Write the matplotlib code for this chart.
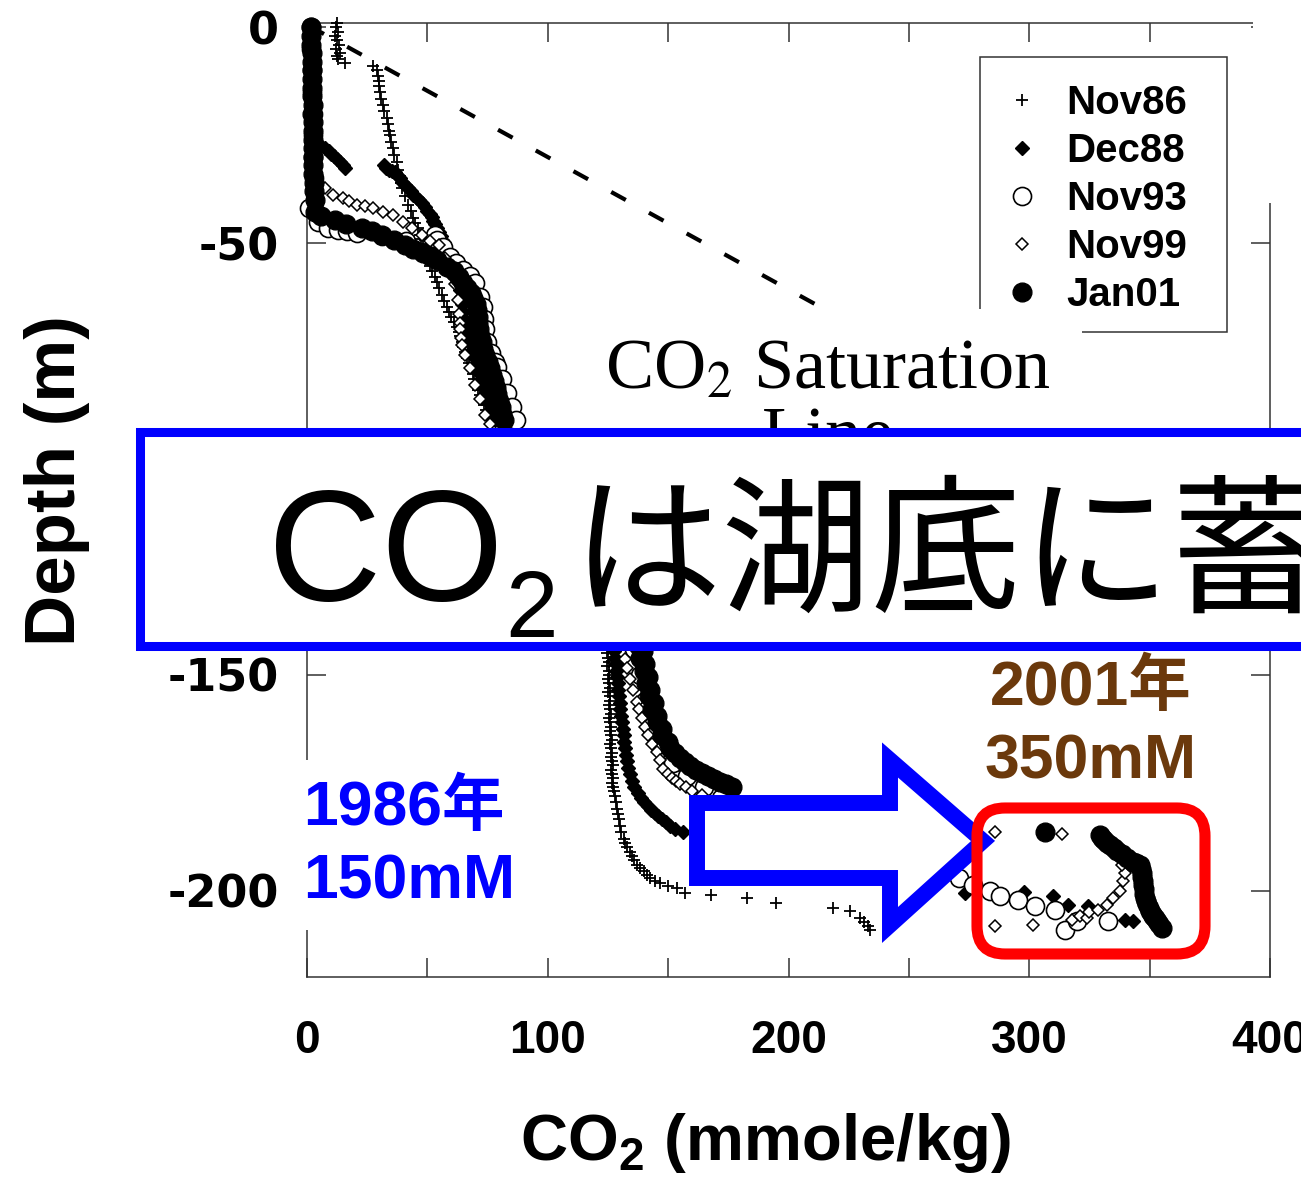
import matplotlib
matplotlib.use('Agg')
import matplotlib.pyplot as plt
from matplotlib.patches import Rectangle, Polygon, FancyBboxPatch

plt.rcParams['font.family'] = ['Liberation Sans', 'Noto Sans CJK JP', 'DejaVu Sans']
plt.rcParams['mathtext.fontset'] = 'custom'
plt.rcParams['mathtext.rm'] = 'Liberation Sans'
plt.rcParams['mathtext.bf'] = 'Liberation Sans:bold'
plt.rcParams['lines.scale_dashes'] = False
plt.rcParams['axes.unicode_minus'] = False

# CO2 profiles (mmole/kg) against depth (m)
nov86_co2 = [12.5, 12, 13, 11.8, 12.6, 13.2, 12.2, 13.6, 12.4, 13, 15.8,
             27.4, 29, 29.5, 29.8, 30, 30.3, 30.8, 31.6, 32, 33.2, 33.5, 34, 34.5, 35, 35.7,
             36.3, 37.4, 37.8, 38.5, 39, 39.5, 40.5, 42, 43, 44, 45,
             46, 46.8, 47.5, 48.2, 49, 49.8, 50.5, 51.2, 52, 53, 54, 55, 56, 57, 58, 59, 60, 61.2,
             62.3, 63, 63.5, 64.2, 64.8, 65.7, 66.5, 67.3, 68, 68.8, 69.5, 70.2, 71, 71.9, 72.7,
             73.5, 74.2, 75, 76,
             82, 92, 104, 115, 121, 124,
             124.6, 125.2, 124.8, 125, 125.5, 124.8, 125.3, 125.6, 125.1, 125.5, 125.9, 125.2,
             125.7, 126, 125.4, 125.8, 126.2, 125.5, 126, 126.4, 125.8, 126.2, 126.6, 126,
             126.4, 126.8, 126.2, 126.6, 127, 126.4, 126.8, 127.2, 126.7, 127.1, 127.6, 127.9,
             128.3, 128.8, 129.2, 129.5, 130, 130.5, 131.5, 132.2, 133, 134, 135, 136, 137,
             138.5, 140, 141.2, 142.5, 144.5, 146.6, 150, 153.7, 157, 168, 182.8, 195,
             218.5, 225.5, 229.7, 231.5, 233, 233.9]
nov86_depth = [1, 0, -1, -2, -3, -4, -5, -6, -6.7, -7.3, -8.2,
               -8.9, -10, -11.2, -12.5, -13.7, -15, -16.5, -18, -19.5, -21, -22.5, -24, -25, -26.5, -28,
               -29.5, -31.3, -33, -34.5, -36, -37.3, -39, -41.2, -42.5, -44.2, -45.3,
               -46.5, -48, -49, -50.3, -51.5, -52.8, -54, -55.2, -56.5, -57.8, -59, -60.5, -62, -63.4, -64.8,
               -66, -67, -68.2,
               -69.4, -70.5, -71.5, -72.8, -74, -75.3, -76.5, -77.8, -79, -80.3, -81.5, -82.8, -84, -85.2, -86.3,
               -87.5, -88.7, -89.8, -91,
               -97, -104, -113, -122, -130, -137,
               -143, -144, -145, -146, -147, -148, -149, -150, -151, -152, -153, -154,
               -155, -156, -157, -158, -159, -160, -161, -162, -163, -164, -165, -166,
               -167, -168, -169, -170, -171, -172, -173, -174, -175, -176, -177, -178,
               -179.5, -181, -182.3, -183.5, -185, -186.3, -188, -189, -190, -191, -192, -193, -194,
               -194.8, -195.5, -196.3, -197, -197.7, -198.3, -199, -199.4, -200.6, -201, -201.7, -202.9,
               -204, -204.7, -206.3, -207.2, -208.2, -209]

dec88_co2 = [2, 2.2, 2.4, 2.5, 2.6, 3,
             5, 7.5, 9, 10, 11.3, 12.5, 13.8, 15, 15.8,
             32, 33, 34, 35.3, 36.5, 37.5, 38.5, 39.6, 40.7, 41.8, 43, 44.2, 45.5, 46.6, 47.8, 49,
             50, 51, 52, 52.5, 53, 54, 55, 55.5, 56, 56.8, 57.5, 58.5, 59.4, 60.5, 61.5, 62.5,
             63.5, 64, 64.5, 65, 65.6, 66.3, 67, 67.8, 68.5, 69.2, 70, 71, 71.9, 73, 74, 75, 76, 77, 78,
             86, 97, 110, 120, 126, 127,
             127.3, 127.6, 127.9, 128.2, 128.5, 128.7, 129, 129.3, 129.6, 130, 130.2, 130.5,
             130.8, 131.2, 131.5, 131.8, 132.2, 132.6, 133, 133.4, 134, 134.8, 136, 137.3,
             138.6, 140, 141.5, 143, 144.5, 146, 147.5, 149, 150.8, 153, 156,
             175, 200, 230, 255,
             273.3, 298, 310, 316, 324.4, 339.8, 343]
dec88_depth = [0, -5, -10, -15, -20, -25,
               -27, -28, -28.7, -29.3, -29.9, -30.5, -31.2, -31.8, -32.7,
               -32, -32.5, -33, -33.3, -33.6, -34.3, -35, -35.8, -36.5, -37.2, -38, -38.8, -39.5, -40.1,
               -40.8, -41.7,
               -42.5, -43.2, -44, -44.8, -45.5, -46.5, -47.5, -48.4, -49.3, -50.6, -52, -53.5, -55, -56.5,
               -58, -59.4,
               -60.8, -62.4, -64, -66, -67.8, -69.4, -71, -72.8, -74.7, -76.3, -78, -79.8, -81.6, -83.3,
               -85, -86.8, -88.6, -89.8, -91,
               -98, -106, -116, -126, -135, -140,
               -143, -144.5, -146, -147.5, -149, -150.5, -152, -153.5, -155, -156.5, -158, -159.5,
               -161, -162.5, -164, -165.5, -167, -168.5, -170, -171.5, -173, -174.5, -176, -177.3,
               -178.5, -179.5, -180.5, -181.3, -182, -182.8, -183.5, -184.2, -185, -185.6, -186.3,
               -190, -193, -196, -198.5,
               -200.6, -200.2, -201.3, -203.3, -203.6, -206.8, -207]

nov93_co2 = [1.5, 1.8, 2, 2.2, 2.3, 2.5, 2.6, 2.8,
             0.8, 4.6, 8.7, 12.9, 16.5, 20.8, 31, 41,
             53, 54, 56.5, 59.4, 62, 64.8, 67.5, 69.8, 71.9, 73, 73.5, 74, 74.8, 76.5, 78, 79,
             81, 83, 85, 87, 95, 107, 118, 127, 133,
             136, 138.5, 140.5, 143, 147, 152, 158, 165, 172, 200, 230, 255,
             271, 276.6, 283.7, 288, 295.3, 302.4, 310.7, 314.9, 319.8, 332.7]
nov93_depth = [0, -5, -10, -15, -20, -25, -30, -35,
               -41.9, -45, -46.5, -47, -47.3, -47.7, -48.3, -49.5,
               -48, -49.3, -51, -53.2, -54.7, -56.2, -57.7, -59.2, -62.5, -64.8, -67.5, -70, -73, -75.5,
               -77.5, -78.6,
               -81.5, -84.6, -88, -91, -100, -110, -120, -130, -139,
               -144, -150, -156, -162, -167, -170.5, -173.5, -176, -178.5, -183, -188, -193,
               -197.1, -198.7, -200, -201.3, -202.2, -203.6, -204.5, -209.1, -207, -207]

nov99_co2 = [1.5, 2, 2.2, 2.4, 2.6, 2.8, 3,
             7.5, 10.8, 15, 17.5, 20.8, 24, 27.4, 31.6, 35.7, 39.9, 43.6, 47.8, 51, 55,
             57.5, 60.2, 61.5, 62.7, 63.2, 63.5, 63.5, 64, 64.5, 65.6, 67.5, 69.8, 72, 74, 76,
             84, 96, 110, 122, 129,
             132, 133, 134.2, 135.5, 137, 138, 139, 140.3, 141.6, 143.5, 145.4, 146.7, 148,
             149.8, 151.6, 153.3, 155, 157.5, 160, 164, 190, 220, 250, 270,
             285.8, 313.6, 285.8, 301.6, 317.8, 321, 324, 325, 328.5, 332.3, 334.8, 337.7,
             339, 339.8, 338.5]
nov99_depth = [0, -6, -12, -18, -24, -30, -35,
               -37.3, -38.9, -39.6, -40.3, -41.2, -41.5, -41.9, -42.8, -43.5, -45.1, -46.5, -48.2, -49.5,
               -50.5,
               -53.5, -56.2, -59.5, -63.2, -66.5, -68.5, -70, -72, -73.7, -75.9, -79, -82.8, -86, -89.7, -92,
               -100, -110, -120, -130, -139,
               -146.3, -148.5, -151, -153.5, -156.2, -158, -160, -162, -164, -166, -167.8, -169.8, -171.7,
               -172.9, -174, -174.6, -175.2, -176, -176.8, -177.8, -181, -184, -187, -188,
               -186.3, -186.8, -208.2, -208, -206.8, -205.8, -206.3, -205, -204.5, -203.4, -201.8, -200.1,
               -197.8, -196, -194.1]

jan01_co2 = [1.5, 1.8, 1.6, 2.0, 1.9, 2.1, 2.0, 2.2, 2.1, 2.3, 2.2, 2.4, 2.3, 2.5, 2.4, 2.6,
             2.5, 2.6, 2.8, 3.0, 3.5,
             3.3, 6, 11.6, 16, 22.8, 27, 31, 36, 40.7, 44, 48, 51, 54, 58, 61, 63,
             65, 66.5, 68, 69, 70, 70.5, 71, 71.2, 71.5, 72, 72.5, 73.2, 74, 75, 76, 76.8, 77.5,
             78.3, 79, 79.8, 80.5, 81.2, 82,
             88, 96, 105, 114, 122, 128, 133,
             137.5, 139.5, 138.5, 140.5, 139.8, 141.5, 141, 142.5, 142, 144, 143.5, 145.5, 145.4,
             147.5, 147.5, 150, 150.8, 153, 155, 157, 159, 161.5, 164, 166.5, 169, 171.5, 174, 176.5,
             190, 215, 245,
             306.5, 329.4, 330.2, 331, 332.2, 333.5, 335, 336.5, 338.5, 340.6, 343, 344.5, 346,
             346.4, 346.8, 347, 347.2, 347.4, 347.6, 347.8, 348, 348.5, 349, 349.6, 350.2, 351,
             351.6, 352.3, 353, 354, 355]
jan01_depth = [0, -2, -4, -6, -8, -10, -12, -14, -16, -18, -20, -22, -24, -26, -28, -30,
               -32, -34, -36, -38, -40,
               -42.8, -43.8, -44.7, -45.5, -46.5, -47.3, -48, -49.3, -50.5, -51.3, -52.3, -53, -54, -55.5,
               -56.5, -57.8,
               -59.2, -60.3, -61.5, -62.8, -64, -65.5, -67, -68.5, -70, -71.5, -73, -74.5, -76, -77.5,
               -79, -80.5, -82, -83.5, -85, -86.5, -88, -89.5, -91,
               -97, -104, -112, -120, -128, -135, -140,
               -143, -144.5, -146, -147.5, -149, -150.5, -152, -153.5, -155, -156.5, -158, -159.5, -161,
               -162.5, -164, -165.5, -167, -168.2, -169.3, -170.3, -171.2, -172, -172.8, -173.5, -174.2,
               -174.8, -175.4, -176,
               -180.5, -182, -183.5,
               -186.3, -187.2, -187.8, -188.3, -188.9, -189.5, -190.2, -190.8, -191.6, -192.5, -193.3,
               -193.7, -194.1,
               -195, -196, -196.9, -197.8, -198.7, -199.7, -200.7, -201.7, -202.5, -203.2, -204, -204.7,
               -205.3, -205.8, -206.4, -207, -207.8, -208.6]

# CO2 saturation line
sat_co2 = [2, 300]
sat_depth = [0, -91.4]

x_ticks = [0, 100, 200, 300, 400]
x_minor = [50, 150, 250, 350]
y_ticks = [0, -50, -100, -150, -200]

W, H = 1301, 1192
fig = plt.figure(figsize=(W / 100, H / 100), dpi=100)
ax = fig.add_axes([307 / W, 1 - 977 / H, (1270 - 307) / W, (977 - 23) / H])


def fx(px):
    return px / W


def fy(py):
    return 1 - py / H


ax.plot(sat_co2, sat_depth, color='black', lw=3, ls=(2, (12, 19)), zorder=2)

ax.plot(nov86_co2, nov86_depth, ls='none', marker='+', ms=9, mew=1.3, color='black', label='Nov86',
        zorder=3, clip_on=False)
ax.plot(dec88_co2, dec88_depth, ls='none', marker='D', ms=7.5, color='black', label='Dec88',
        zorder=3, clip_on=False)
ax.plot(nov93_co2, nov93_depth, ls='none', marker='o', ms=13, mfc='white', mec='black', mew=1.2,
        label='Nov93', zorder=3, clip_on=False)
ax.plot(nov99_co2, nov99_depth, ls='none', marker='D', ms=6.5, mfc='white', mec='black', mew=1.1,
        label='Nov99', zorder=3, clip_on=False)
ax.plot(jan01_co2, jan01_depth, ls='none', marker='o', ms=13.5, color='black', label='Jan01',
        zorder=3, clip_on=False)

ax.set_xlim(0, 400)
ax.set_ylim(-220, 1)
ax.set_xticks(x_ticks)
ax.set_xticks(x_minor, minor=True)
ax.set_yticks(y_ticks)
ax.tick_params(which='both', direction='in', top=True, right=True, length=14, width=1.1, color='#333333')
ax.tick_params(axis='x', pad=30)
ax.tick_params(axis='y', pad=20)
for lbl in ax.get_xticklabels():
    lbl.set_fontsize(33)
    lbl.set_fontweight('bold')
for lbl in ax.get_yticklabels():
    lbl.set_fontsize(32)
    lbl.set_fontweight('bold')
    lbl.set_fontfamily('DejaVu Sans')
for sp in ax.spines.values():
    sp.set_linewidth(1.1)
    sp.set_color('#333333')

ax.set_ylabel('Depth (m)', fontsize=51, fontweight='bold')
ax.yaxis.set_label_coords(-0.225, 0.52)
ax.set_xlabel(r'CO$_\mathbf{2}$ (mmole/kg)', fontsize=47, fontweight='bold')
ax.xaxis.set_label_coords(0.4756, -0.14)

# legend with a hand-sized frame
ax.add_patch(Rectangle((fx(980), fy(332)), fx(1227) - fx(980), fy(57) - fy(332), transform=fig.transFigure,
                       fc='white', ec='#333333', lw=1.1, zorder=4))
leg = ax.legend(loc='upper left', bbox_to_anchor=(fx(978), fy(60)), bbox_transform=fig.transFigure,
                frameon=False, borderpad=0.6, labelspacing=0.25, handlelength=1.0, handletextpad=0.6,
                borderaxespad=0, prop={'size': 29, 'weight': 'bold'})
leg.set_zorder(5)

# white patches over the plot frame
fig.add_artist(Rectangle((fx(1253), fy(203)), 1 - fx(1253), fy(0) - fy(203), transform=fig.transFigure,
                         fc='white', ec='none', zorder=5))
fig.add_artist(Rectangle((fx(575), fy(432)), fx(1082) - fx(575), fy(309) - fy(432), transform=fig.transFigure,
                         fc='white', ec='none', zorder=5))
fig.text(fx(828), fy(405), 'CO$_\\mathrm{2}$ Saturation\nLine', fontsize=52, family='Liberation Serif',
         math_fontfamily='stix', ha='center', va='center', linespacing=1.05, zorder=6)

# title banner
fig.add_artist(Rectangle((fx(140), fy(646)), 1.1 - fx(140), fy(432) - fy(646), transform=fig.transFigure,
                         fc='white', ec='#0000ff', lw=6.5, zorder=7, clip_on=False))
fig.text(fx(268), fy(600), 'CO', fontsize=113, ha='left', va='baseline', zorder=8)
fig.text(fx(505), fy(637), '2', fontsize=68, ha='left', va='baseline', zorder=8)
fig.text(fx(572), fy(600), 'は湖底に蓄積', fontsize=108, family='Noto Sans CJK JP',
         ha='left', va='baseline', zorder=8)

# annotations
fig.text(fx(303), fy(845), '1986年\n150mM', fontsize=45, fontweight='bold', color='#0000ff',
         ha='left', va='center', linespacing=1.3, zorder=8,
         bbox=dict(boxstyle='square,pad=0.3', fc='white', ec='none'))
fig.text(fx(1091), fy(725), '2001年\n350mM', fontsize=45, fontweight='bold', color='#6b390c',
         ha='center', va='center', multialignment='center', linespacing=1.3, zorder=8)

arrow_px = [(697, 803), (890, 803), (890, 760), (983, 841), (890, 925), (890, 878), (697, 878)]
fig.add_artist(Polygon([(fx(x), fy(y)) for x, y in arrow_px], closed=True, transform=fig.transFigure,
                       fc='white', ec='#0000ff', lw=11.5, joinstyle='miter', zorder=7))

fig.add_artist(FancyBboxPatch((fx(977), fy(954)), fx(1205) - fx(977), fy(808) - fy(954),
                              boxstyle='round,pad=0,rounding_size=%f' % (28 / W), mutation_aspect=W / H,
                              transform=fig.transFigure, fc='none', ec='#ff0000', lw=8, zorder=7))

fig.savefig('out.png', dpi=100)
